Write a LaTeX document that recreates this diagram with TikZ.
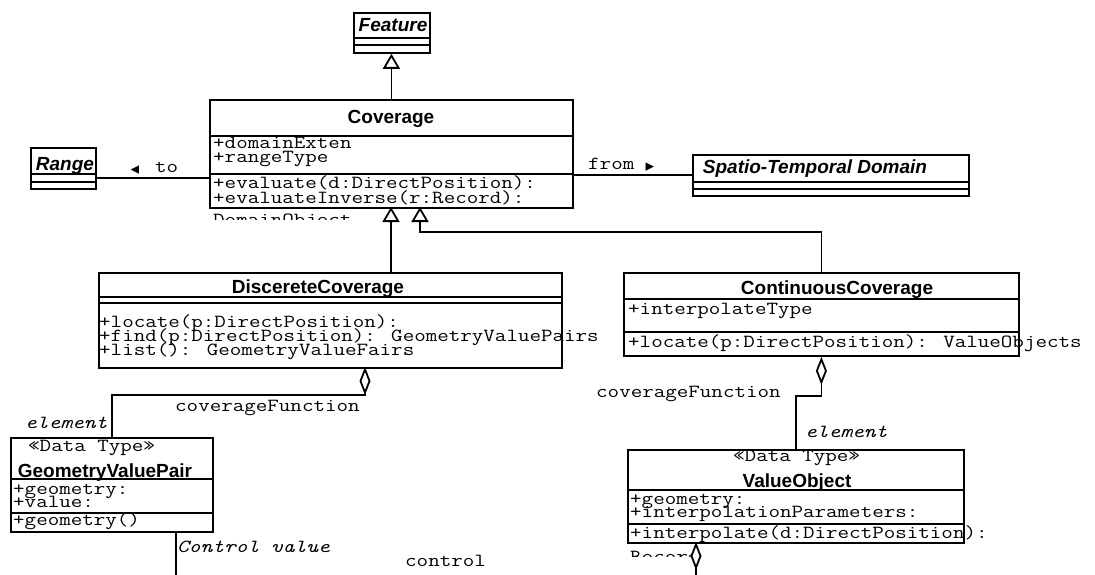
\documentclass[tikz,border=0pt]{standalone}
\usepackage{fontspec}
\setmainfont{Liberation Sans}
\newfontfamily\umlmono[FakeStretch=1.21]{Latin Modern Mono}
\newfontfamily\umlsym{DejaVu Sans}
\usetikzlibrary{arrows.meta,calc}

\tikzset{
  box/.style={draw,line width=1.8pt,inner sep=0pt,anchor=north west},
  ctitle/.style={font=\fontsize{19}{19}\selectfont\bfseries,anchor=base,inner sep=0pt},
  atitle/.style={ctitle,font=\fontsize{19}{19}\selectfont\bfseries\itshape},
  mono/.style={font=\umlmono\fontsize{18.5}{18.5}\selectfont,anchor=base west,inner sep=0pt},
  role/.style={mono,font=\umlmono\itshape\fontsize{18.5}{18.5}\selectfont},
  dirmark/.style={font=\umlsym\fontsize{17}{17}\selectfont,inner sep=0pt},
  link/.style={line width=1.8pt},
  gen/.style={link,-{Triangle[open,width=17pt,length=15pt]}},
  aggr/.style={link,{Diamond[open,fill=white,width=11pt,length=28pt]}-},
}

\begin{document}
\begin{tikzpicture}[x=1pt,y=-1pt]
\useasboundingbox (0,0) rectangle (1095,575);
\clip (0,0) rectangle (1095,575);

% class boxes, one node per compartment
\node[box,minimum width=76,minimum height=25] (featT) at (353,12) {};
\node[box,minimum width=76,minimum height=7] (featA) at (353,37) {};
\node[box,minimum width=76,minimum height=8] (featO) at (353,44) {};

\node[box,minimum width=65,minimum height=26] (rngT) at (30,147) {};
\node[box,minimum width=65,minimum height=8] (rngA) at (30,173) {};
\node[box,minimum width=65,minimum height=7] (rngO) at (30,181) {};

\node[box,minimum width=363,minimum height=36] (covT) at (209,99) {};
\node[box,minimum width=363,minimum height=38] (covA) at (209,135) {};
\node[box,minimum width=363,minimum height=34] (covO) at (209,173) {};

\node[box,minimum width=276,minimum height=27] (stdT) at (692,154) {};
\node[box,minimum width=276,minimum height=7] (stdA) at (692,181) {};
\node[box,minimum width=276,minimum height=7] (stdO) at (692,188) {};

\node[box,minimum width=463,minimum height=24] (discT) at (98,272) {};
\node[box,minimum width=463,minimum height=6] (discA) at (98,296) {};
\node[box,minimum width=463,minimum height=65] (discO) at (98,302) {};

\node[box,minimum width=395,minimum height=26] (contT) at (623,272) {};
\node[box,minimum width=395,minimum height=33] (contA) at (623,298) {};
\node[box,minimum width=395,minimum height=24] (contO) at (623,331) {};

\node[box,minimum width=202,minimum height=41] (gvpT) at (10,437) {};
\node[box,minimum width=202,minimum height=34] (gvpA) at (10,478) {};
\node[box,minimum width=202,minimum height=19] (gvpO) at (10,512) {};

\node[box,minimum width=336,minimum height=40] (voT) at (627,449) {};
\node[box,minimum width=336,minimum height=34] (voA) at (627,489) {};
\node[box,minimum width=336,minimum height=19] (voO) at (627,523) {};

% class names
\node[atitle] (featN) at (393,32) {Feature};
\node[ctitle] (covN) at (391,124) {Coverage};
\node[atitle] (rngN) at (65,171) {Range};
\node[atitle] (stdN) at (815,174) {Spatio-Temporal Domain};
\node[ctitle] (discN) at (318,293) {DiscereteCoverage};
\node[ctitle] (contN) at (837,294) {ContinuousCoverage};
\node[mono] (gvpS) at (28,451) {«Data Type»};
\node[ctitle] (gvpN) at (105,477) {GeometryValuePair};
\node[mono] (voS) at (733,461) {«Data Type»};
\node[ctitle] (voN) at (797,487) {ValueObject};

% attributes and operations
\node[mono] (covA1) at (213,149) {+domainExten};
\node[mono] (covA2) at (213,163) {+rangeType};
\node[mono] (covO1) at (213,189) {+evaluate(d:DirectPosition):};
\node[mono] (covO2) at (213,203) {+evaluateInverse(r:Record):};
\begin{scope}
\clip (209,208) rectangle (573,219);
\node[mono] (covO3) at (213,225) {DomainObject};
\end{scope}

\node[mono] (discO1) at (99,327) {+locate(p:DirectPosition):};
\node[mono] (discO2) at (99,341) {+find(p:DirectPosition): GeometryValuePairs};
\node[mono] (discO3) at (99,355) {+list(): GeometryValueFairs};

\node[mono] (contA1) at (628,314) {+interpolateType};
\node[mono] (contO1) at (628,347) {+locate(p:DirectPosition): ValueObjects};

\node[mono] (gvpA1) at (13,494) {+geometry:};
\node[mono] (gvpA2) at (13,507) {+value:};
\node[mono] (gvpO1) at (13,525) {+geometry()};

\node[mono] (voA1) at (630,504) {+geometry:};
\node[mono] (voA2) at (630,517) {+interpolationParameters:};
\node[mono] (voO1) at (630,538) {+interpolate(d:DirectPosition):};
\begin{scope}
\clip (627,543) rectangle (963,556);
\node[mono] (voO2) at (630,562) {Record};
\end{scope}

% generalizations
\coordinate (g1) at (391,207);
\coordinate (g2) at (420,207);
\draw[gen] (covT.north) -- (covT.north |- featO.south);
\draw[gen] (g1 |- discT.north) -- (g1);
\draw[gen] (contT.north) |- ($(g2)+(0,25)$) -- (g2);

% associations
\draw[link] (rngA.east) -- (rngA.east -| covO.west);
\node[dirmark] (toM) at (135,170) {◂};
\node[mono] (toL) at (155,172) {to};
\coordinate (fromA) at ($(covO.north east)+(0,2)$);
\draw[link] (fromA) -- (fromA -| stdT.west);
\node[mono] (fromL) at (588,170) {from};
\node[dirmark] (fromM) at (650,167) {▸};

% aggregations
\coordinate (a1) at (365,367);
\draw[aggr] (a1) -- ++(0,28) -| (gvpT.north);
\node[mono] (cfL) at (175,411) {coverageFunction};
\node[role] (elL) at (25,428) {element};
\draw[aggr] (contO.south) -- ++(0,39) -| (voT.north);
\node[mono] (cfR) at (596,397) {coverageFunction};
\node[role] (elR) at (805,437) {element};
\coordinate (a3) at (696,542);
\draw[aggr] (a3) -- ++(0,40);
\coordinate (c1) at (176,531);
\draw[link] (c1) -- ++(0,50);
\node[role] (cvL) at (177,552) {Control value};
\node[mono] (ctL) at (405,566) {control};
\end{tikzpicture}
\end{document}
